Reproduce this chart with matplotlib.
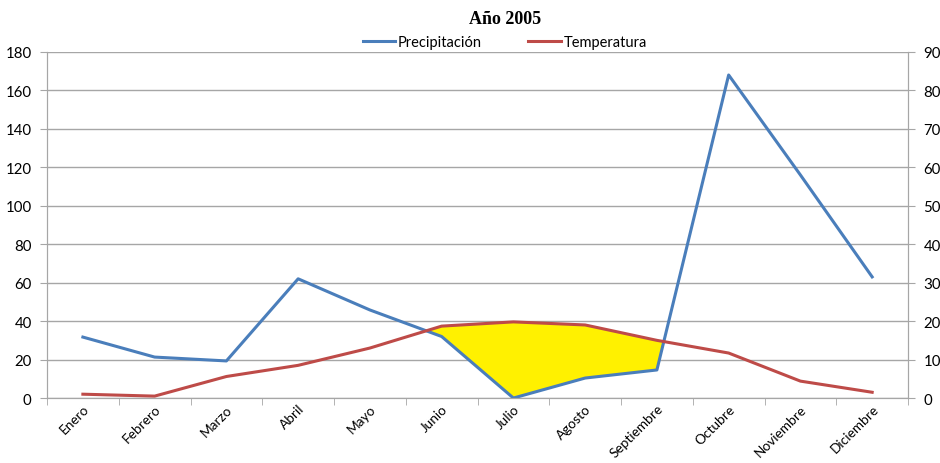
import matplotlib
matplotlib.use("Agg")
import matplotlib.pyplot as plt
import numpy as np

months = ["Enero", "Febrero", "Marzo", "Abril", "Mayo", "Junio", "Julio",
          "Agosto", "Septiembre", "Octubre", "Noviembre", "Diciembre"]
precipitacion = [31.7, 21.3, 19.3, 62.0, 45.8, 32.0, 0.0, 10.4, 14.6, 168.0, 116.0, 63.0]
temperatura = [1.0, 0.5, 5.6, 8.5, 13.0, 18.7, 19.8, 19.0, 15.0, 11.7, 4.4, 1.5]
left_ticks = list(range(0, 181, 20))
right_ticks = list(range(0, 91, 10))

blue = "#4A7EBB"
red = "#BE4B48"
yellow = "#FFF100"
grid_c = "#A6A6A6"
font = "Lato"

fig = plt.figure(figsize=(9.4, 4.64), dpi=100)
ax = fig.add_axes([0.05, 0.140, 0.916, 0.746])
ax2 = ax.twinx()

x = np.arange(len(months))
p = np.array(precipitacion)
t2 = np.array(temperatura) * 2.0

ax.fill_between(x, p, t2, where=p < t2, interpolate=True, color=yellow, lw=0, zorder=1)
lp, = ax.plot(x, precipitacion, color=blue, lw=2.2, zorder=3, label="Precipitación")
lt, = ax2.plot(x, temperatura, color=red, lw=2.2, zorder=3, label="Temperatura")

ax.set_xlim(-0.5, len(months) - 0.5)
ax.set_ylim(0, 180)
ax2.set_ylim(0, 90)
ax.set_yticks(left_ticks)
ax2.set_yticks(right_ticks)
ax.yaxis.grid(True, color=grid_c, lw=1)
ax.set_axisbelow(True)

ax.set_xticks(x)
ax.set_xticklabels(months, rotation=45, ha="right", rotation_mode="anchor",
                   fontsize=9.8, color="black", family=font)
ax.set_xticks(np.arange(-0.5, len(months), 1), minor=True)
ax.tick_params(axis="x", which="major", length=0, pad=3)
ax.tick_params(axis="x", which="minor", length=5, color=grid_c, direction="out")

for a in (ax, ax2):
    a.spines["top"].set_visible(False)
    for s in ("left", "right", "bottom"):
        a.spines[s].set_color(grid_c)
ax.tick_params(axis="y", length=5, color=grid_c, labelsize=10.8, labelcolor="black", pad=6)
ax2.tick_params(axis="y", length=5, color=grid_c, labelsize=10.8, labelcolor="black", pad=6)
for lab in ax.get_yticklabels() + ax2.get_yticklabels():
    lab.set_family(font)

fig.text(0.537, 0.958, "Año 2005", ha="center", va="center", fontsize=13,
         fontweight="bold", family="Liberation Serif")
fig.legend(handles=[lp, lt], loc="center", bbox_to_anchor=(0.537, 0.908), ncol=2,
           frameon=False, handlelength=2.2, columnspacing=3.2, handletextpad=0.2,
           prop={"family": font, "size": 10.5})

fig.savefig("out.png", dpi=100)
